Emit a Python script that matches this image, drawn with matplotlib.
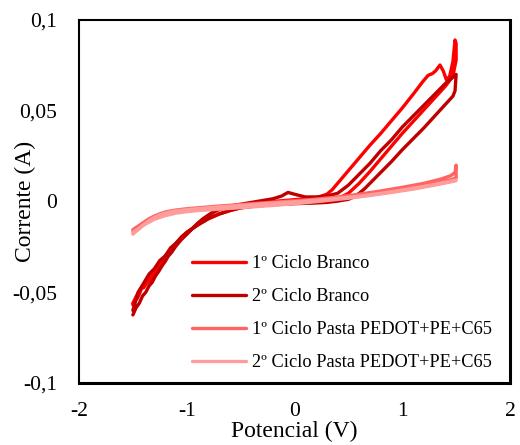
import matplotlib
matplotlib.use("Agg")
import matplotlib.pyplot as plt

plt.rcParams['font.family'] = ['Liberation Serif', 'DejaVu Serif']

# 1º ciclo - branco (anodic sweep then cathodic sweep)
v_b1 = [-1.50, -1.48, -1.46, -1.44, -1.42, -1.40, -1.37, -1.34, -1.31, -1.28, -1.25,
        -1.22, -1.19, -1.16, -1.13, -1.10, -1.05, -1.00, -0.95, -0.90, -0.85, -0.80,
        -0.75, -0.70, -0.60, -0.50, -0.40, -0.30, -0.20, -0.10, 0.00, 0.10, 0.20,
        0.30, 0.35, 0.40, 0.45, 0.50, 0.60, 0.70, 0.80, 0.90, 1.00, 1.10, 1.19,
        1.24, 1.28, 1.31, 1.35, 1.38, 1.41, 1.44, 1.47, 1.49, 1.50,
        1.50, 1.47, 1.40, 1.30, 1.20, 1.10, 1.00, 0.90, 0.80, 0.70, 0.60, 0.50,
        0.40, 0.30, 0.20, 0.10, 0.00, -0.10, -0.20, -0.30, -0.40, -0.50, -0.60,
        -0.70, -0.80, -0.90, -1.00, -1.05, -1.10, -1.15, -1.20, -1.25, -1.30,
        -1.35, -1.40, -1.45, -1.50]
i_b1 = [-0.0570, -0.0545, -0.0535, -0.0510, -0.0480, -0.0475, -0.0450, -0.0435,
        -0.0405, -0.0385, -0.0350, -0.0335, -0.0305, -0.0290, -0.0255, -0.0240,
        -0.0205, -0.0180, -0.0150, -0.0125, -0.0100, -0.0080, -0.0060, -0.0045,
        -0.0030, -0.0020, -0.0012, -0.0005, 0.0000, 0.0005, 0.0010, 0.0015, 0.0020,
        0.0040, 0.0065, 0.0100, 0.0135, 0.0170, 0.0240, 0.0310, 0.0375, 0.0445,
        0.0515, 0.0590, 0.0660, 0.0695, 0.0705, 0.0720, 0.0752, 0.0720, 0.0670,
        0.0690, 0.0770, 0.0890, 0.0870,
        0.0780, 0.0690, 0.0635, 0.0570, 0.0505, 0.0440, 0.0375, 0.0305, 0.0235,
        0.0165, 0.0100, 0.0045, 0.0015, 0.0002, -0.0005, -0.0008, -0.0010,
        -0.0012, -0.0015, -0.0020, -0.0025, -0.0035, -0.0050, -0.0070, -0.0095,
        -0.0130, -0.0170, -0.0200, -0.0230, -0.0270, -0.0300, -0.0345, -0.0380,
        -0.0420, -0.0455, -0.0500, -0.0560]

# 2º ciclo - branco
v_b2 = [-1.50, -1.47, -1.44, -1.41, -1.38, -1.35, -1.32, -1.29, -1.26, -1.23, -1.20,
        -1.17, -1.14, -1.10, -1.05, -1.00, -0.95, -0.90, -0.85, -0.80, -0.75, -0.70,
        -0.60, -0.50, -0.40, -0.30, -0.20, -0.12, -0.06, 0.00, 0.10, 0.20, 0.30,
        0.40, 0.50, 0.60, 0.70, 0.80, 0.90, 1.00, 1.10, 1.20, 1.30, 1.40, 1.50,
        1.49, 1.47, 1.40, 1.30, 1.20, 1.10, 1.00, 0.90, 0.80, 0.70, 0.65, 0.60,
        0.55, 0.50, 0.40, 0.30, 0.20, 0.10, 0.00, -0.10, -0.20, -0.30, -0.40,
        -0.50, -0.60, -0.70, -0.80, -0.90, -1.00, -1.05, -1.10, -1.15, -1.20,
        -1.25, -1.30, -1.35, -1.40, -1.45, -1.50]
i_b2 = [-0.0625, -0.0585, -0.0560, -0.0520, -0.0500, -0.0465, -0.0445, -0.0410,
        -0.0385, -0.0355, -0.0330, -0.0300, -0.0280, -0.0245, -0.0210, -0.0180,
        -0.0150, -0.0120, -0.0095, -0.0075, -0.0055, -0.0040, -0.0025, -0.0015,
        -0.0005, 0.0005, 0.0015, 0.0030, 0.0050, 0.0040, 0.0025, 0.0025, 0.0030,
        0.0045, 0.0090, 0.0150, 0.0210, 0.0280, 0.0340, 0.0410, 0.0470, 0.0530,
        0.0590, 0.0650, 0.0700,
        0.0610, 0.0580, 0.0535, 0.0470, 0.0405, 0.0345, 0.0285, 0.0220, 0.0160,
        0.0100, 0.0070, 0.0045, 0.0025, 0.0012, 0.0002, -0.0005, -0.0008, -0.0010,
        -0.0012, -0.0015, -0.0018, -0.0022, -0.0028, -0.0035, -0.0050, -0.0068,
        -0.0095, -0.0130, -0.0170, -0.0195, -0.0230, -0.0255, -0.0300, -0.0325,
        -0.0370, -0.0400, -0.0450, -0.0500, -0.0600]

# 1º ciclo - pasta PEDOT+PE+C65
v_p1 = [-1.50, -1.45, -1.40, -1.35, -1.30, -1.25, -1.20, -1.15, -1.10, -1.00, -0.90,
        -0.80, -0.70, -0.50, -0.30, -0.10, 0.00, 0.20, 0.40, 0.60, 0.80, 1.00,
        1.20, 1.35, 1.45, 1.49, 1.50,
        1.50, 1.45, 1.30, 1.10, 0.90, 0.70, 0.50, 0.30, 0.10, -0.10, -0.30, -0.50,
        -0.70, -0.90, -1.00, -1.10, -1.20, -1.30, -1.40, -1.50]
i_p1 = [-0.0155, -0.0135, -0.0115, -0.0095, -0.0080, -0.0068, -0.0058, -0.0052,
        -0.0047, -0.0040, -0.0035, -0.0030, -0.0025, -0.0017, -0.0008, 0.0000,
        0.0004, 0.0013, 0.0025, 0.0040, 0.0058, 0.0078, 0.0100, 0.0122, 0.0142,
        0.0160, 0.0200,
        0.0130, 0.0120, 0.0100, 0.0078, 0.0058, 0.0040, 0.0024, 0.0010, -0.0002,
        -0.0012, -0.0020, -0.0028, -0.0036, -0.0045, -0.0050, -0.0058, -0.0070,
        -0.0090, -0.0120, -0.0165]

# 2º ciclo - pasta PEDOT+PE+C65
v_p2 = [-1.50, -1.45, -1.40, -1.35, -1.30, -1.25, -1.20, -1.15, -1.10, -1.00, -0.90,
        -0.80, -0.70, -0.50, -0.30, -0.10, 0.00, 0.20, 0.40, 0.60, 0.80, 1.00,
        1.20, 1.35, 1.45, 1.50,
        1.50, 1.45, 1.30, 1.10, 0.90, 0.70, 0.50, 0.30, 0.10, -0.10, -0.30, -0.50,
        -0.70, -0.90, -1.00, -1.10, -1.20, -1.30, -1.40, -1.50]
i_p2 = [-0.0170, -0.0150, -0.0128, -0.0105, -0.0088, -0.0074, -0.0064, -0.0057,
        -0.0052, -0.0045, -0.0040, -0.0035, -0.0030, -0.0022, -0.0013, -0.0005,
        -0.0001, 0.0007, 0.0017, 0.0029, 0.0045, 0.0063, 0.0083, 0.0100, 0.0112,
        0.0118,
        0.0115, 0.0108, 0.0090, 0.0068, 0.0050, 0.0033, 0.0018, 0.0005, -0.0007,
        -0.0017, -0.0026, -0.0034, -0.0042, -0.0050, -0.0056, -0.0064, -0.0078,
        -0.0098, -0.0130, -0.0180]

series = [
    (v_b1, i_b1, "1º Ciclo Branco", "#ff0000"),
    (v_b2, i_b2, "2º Ciclo Branco", "#c00000"),
    (v_p1, i_p1, "1º Ciclo Pasta PEDOT+PE+C65", "#ff6464"),
    (v_p2, i_p2, "2º Ciclo Pasta PEDOT+PE+C65", "#ff9c9c"),
]

x_ticks = [-2, -1, 0, 1, 2]
y_ticks = [-0.1, -0.05, 0, 0.05, 0.1]
y_tick_labels = ["-0,1", "-0,05", "0", "0,05", "0,1"]

fig = plt.figure(figsize=(5.20, 4.45), dpi=100)
ax = fig.add_axes([79 / 520, 1 - 383 / 445, (510 - 79) / 520, (383 - 20) / 445])

for v, i, label, color in series:
    ax.plot(v, i, color=color, lw=2.4, label=label,
            solid_capstyle="round", solid_joinstyle="round")

ax.set_xlim(-2, 2)
ax.set_ylim(-0.1, 0.1)
ax.set_xticks(x_ticks)
ax.set_xticklabels([str(t) for t in x_ticks])
ax.set_yticks(y_ticks)
ax.set_yticklabels(y_tick_labels)
ax.tick_params(length=0, labelsize=15.5, colors="black")
ax.tick_params(axis="x", pad=13.5)
ax.tick_params(axis="y", pad=15.5)

for side in ["left", "top"]:
    ax.spines[side].set_linewidth(1.5)
for side in ["right", "bottom"]:
    ax.spines[side].set_linewidth(2.2)

ax.set_xlabel("Potencial (V)", fontsize=17)
ax.xaxis.set_label_coords(0.5, -0.105)
ax.set_ylabel("Corrente (A)", fontsize=17)
ax.yaxis.set_label_coords(-0.10, 0.5)

ax.legend(loc="upper left", bbox_to_anchor=(0.262, 0.352), frameon=False,
          fontsize=13.2, handlelength=2.95, handletextpad=0.33, labelspacing=0.87,
          borderaxespad=0, borderpad=0)

fig.savefig("out.png", dpi=100)
